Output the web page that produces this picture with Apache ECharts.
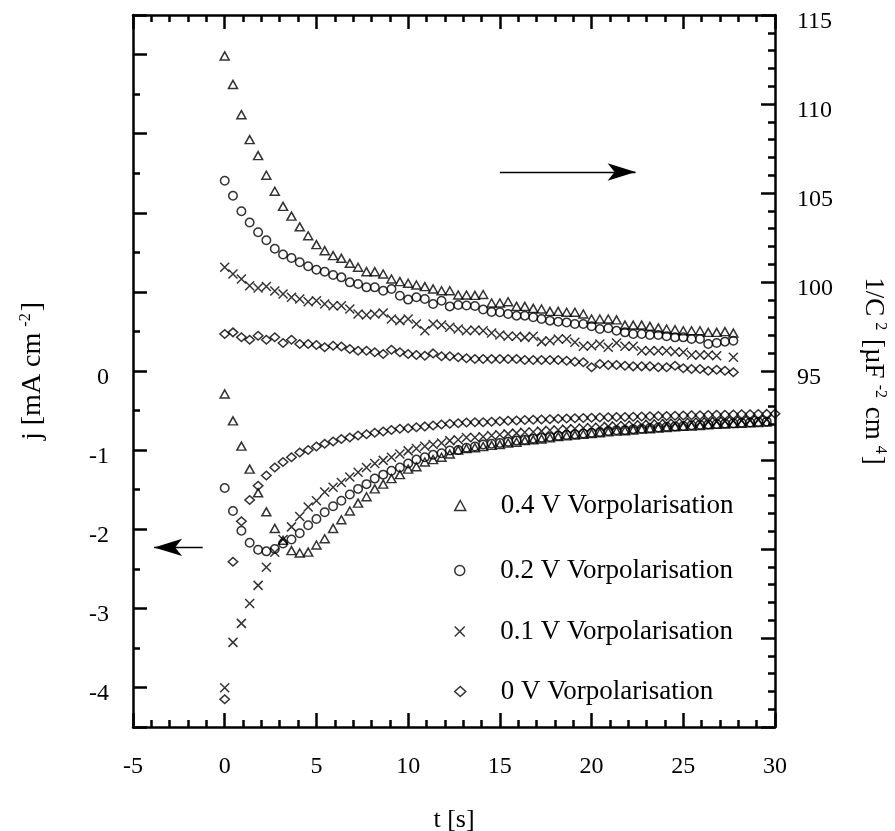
<!DOCTYPE html>
<html><head><meta charset="utf-8">
<script src="https://cdn.jsdelivr.net/npm/echarts@6/dist/echarts.min.js"></script>
<style>html,body{margin:0;padding:0;background:#fff}#c{width:895px;height:831px}</style>
</head><body><div id="c"></div>
<script>
// time axis [s]
const t = [0,0.45,0.91,1.36,1.82,2.27,2.73,3.18,3.64,4.09,4.55,5.00,5.45,5.91,6.36,6.82,7.27,7.73,8.18,8.64,
  9.09,9.55,10.00,10.45,10.91,11.36,11.82,12.27,12.73,13.18,13.64,14.09,14.55,15.00,15.45,15.91,16.36,16.82,17.27,17.73,
  18.18,18.64,19.09,19.55,20.00,20.45,20.91,21.36,21.82,22.27,22.73,23.18,23.64,24.09,24.55,25.00,25.45,25.91,26.36,26.82,
  27.27,27.73,28.18,28.64,29.09,29.55,30.00];

const seriesNames = ['0.4 V Vorpolarisation','0.2 V Vorpolarisation','0.1 V Vorpolarisation','0 V Vorpolarisation'];

// 1/C^2 [uF^-2 cm^4] (right axis)
const c04 = [112.7,111.1,109.4,108.0,107.1,106.0,105.1,104.25,103.7,103.1,102.6,102.1,101.76,101.48,101.33,101.05,100.83,100.58,100.58,100.45,
  100.17,100.02,99.93,99.83,99.74,99.61,99.51,99.51,99.27,99.27,99.25,99.30,98.82,98.82,98.89,98.63,98.63,98.52,98.48,98.35,
  98.35,98.30,98.30,98.20,97.92,97.92,97.92,97.87,97.58,97.58,97.58,97.51,97.42,97.36,97.32,97.26,97.26,97.26,97.17,97.17,
  97.21,97.13];
const c02 = [105.69,104.85,103.97,103.34,102.79,102.35,101.87,101.54,101.35,101.11,100.88,100.69,100.58,100.39,100.26,99.98,99.89,99.70,99.70,99.51,
  99.61,99.23,99.01,99.14,99.04,98.76,98.95,98.63,98.71,98.68,98.65,98.46,98.32,98.30,98.20,98.11,98.11,98.02,97.92,97.83,
  97.77,97.73,97.64,97.64,97.51,97.36,97.40,97.26,97.17,97.08,97.08,97.02,97.02,96.95,96.89,96.89,96.80,96.80,96.52,96.57,
  96.65,96.70];
const c01 = [100.83,100.45,100.17,99.79,99.66,99.75,99.49,99.33,99.14,99.04,98.89,98.95,98.76,98.67,98.67,98.48,98.20,98.15,98.20,98.26,
  97.92,97.83,97.92,97.64,97.26,97.64,97.58,97.46,97.36,97.26,97.30,97.26,97.13,97.02,96.95,96.95,96.89,96.95,96.65,96.70,
  96.80,96.80,96.61,96.39,96.42,96.52,96.33,96.57,96.39,96.39,96.14,96.14,96.14,96.14,96.08,96.05,95.90,95.90,95.90,95.86,
  null,95.77];
const c00 = [97.08,97.17,96.89,96.76,96.98,96.76,96.89,96.57,96.76,96.52,96.52,96.46,96.33,96.42,96.37,96.24,96.14,96.14,96.05,95.96,
  96.20,96.05,95.96,95.90,95.86,95.99,95.83,95.83,95.77,95.71,95.67,95.67,95.67,95.67,95.67,95.67,95.62,95.62,95.62,95.62,
  95.62,95.58,95.52,95.49,95.21,95.39,95.34,95.34,95.30,95.26,95.26,95.26,95.21,95.21,95.30,95.15,95.11,95.11,95.02,95.07,
  95.02,94.93];

// j [mA cm^-2] (left axis)
const j04 = [-0.29,-0.63,-0.95,-1.24,-1.54,-1.78,-1.99,-2.14,-2.27,-2.30,-2.29,-2.20,-2.12,-1.99,-1.88,-1.77,-1.67,-1.59,-1.49,-1.43,
  -1.36,-1.31,-1.24,-1.21,-1.15,-1.12,-1.09,-1.05,-1.00,-0.98,-0.97,-0.955,-0.94,-0.93,-0.91,-0.90,-0.88,-0.87,-0.86,-0.845,
  -0.83,-0.82,-0.81,-0.80,-0.79,-0.78,-0.77,-0.76,-0.755,-0.745,-0.735,-0.73,-0.72,-0.715,-0.705,-0.70,-0.695,-0.69,-0.68,-0.675,
  -0.67,-0.665,-0.66,-0.655,-0.65,-0.645];
const j02 = [-1.48,-1.77,-2.02,-2.17,-2.26,-2.28,-2.25,-2.18,-2.13,-2.05,-1.95,-1.87,-1.785,-1.71,-1.64,-1.56,-1.49,-1.43,-1.36,-1.31,
  -1.26,-1.22,-1.17,-1.12,-1.09,-1.06,-1.04,-1.005,-1.00,-0.97,-0.955,-0.93,-0.92,-0.91,-0.895,-0.88,-0.87,-0.855,-0.845,-0.835,
  -0.82,-0.81,-0.80,-0.79,-0.78,-0.77,-0.76,-0.75,-0.745,-0.735,-0.73,-0.72,-0.715,-0.705,-0.70,-0.695,-0.685,-0.68,-0.675,-0.67,
  -0.665,-0.66,-0.655,-0.65,-0.645,-0.64];
const j01 = [-4.005,-3.43,-3.19,-2.94,-2.71,-2.48,-2.29,-2.13,-1.97,-1.84,-1.72,-1.64,-1.53,-1.47,-1.41,-1.34,-1.28,-1.22,-1.17,-1.13,
  -1.09,-1.05,-1.01,-0.98,-0.95,-0.93,-0.91,-0.88,-0.87,-0.84,-0.84,-0.83,-0.815,-0.805,-0.795,-0.785,-0.775,-0.77,-0.76,-0.75,
  -0.745,-0.735,-0.73,-0.72,-0.715,-0.71,-0.70,-0.695,-0.69,-0.685,-0.68,-0.675,-0.67,-0.665,-0.66,-0.655,-0.65,-0.647,-0.643,-0.64,
  -0.636,-0.632,-0.628,-0.625,-0.62,-0.617];
const j00 = [-4.15,-2.41,-1.90,-1.63,-1.45,-1.32,-1.22,-1.15,-1.09,-1.03,-1.00,-0.955,-0.92,-0.89,-0.86,-0.84,-0.815,-0.80,-0.78,-0.765,
  -0.745,-0.73,-0.725,-0.71,-0.70,-0.69,-0.676,-0.668,-0.66,-0.65,-0.647,-0.647,-0.64,-0.635,-0.63,-0.627,-0.62,-0.617,-0.612,-0.61,
  -0.605,-0.60,-0.598,-0.595,-0.59,-0.588,-0.585,-0.582,-0.58,-0.578,-0.575,-0.572,-0.57,-0.568,-0.566,-0.563,-0.56,-0.558,-0.556,-0.554,
  -0.552,-0.55,-0.548,-0.546,-0.544,-0.542,-0.54];

// tick labels
const xTickLabels = ['-5','0','5','10','15','20','25','30'];
const jTickLabels = ['0','-1','-2','-3','-4'];
const cTickLabels = ['95','100','105','110','115'];

// arrows (data coordinates)
const arrowJ = {from:[-1.2,-2.23], to:[-3.85,-2.23]};
const arrowC = {from:[15.0,106.18], to:[22.4,106.18]};

const FONT = '"Liberation Serif","Times New Roman",serif';
const upper = [c04,c02,c01,c00];
const lower = [j04,j02,j01,j00];
const symbols = ['triangle','circle','path://M0,0L10,10M10,0L0,10','diamond'];
const symSizes = [[9,8],[8.5,8.5],[9,9],[9.5,8.5]];
const itemStyle = {color:'rgba(255,255,255,0)', borderColor:'#000', borderWidth:1.5};

function pts(vals){
  const out = [];
  vals.forEach((v,i)=>{ if(v!==null) out.push([t[i], v]); });
  return out;
}

const series = [];
for (let k=0;k<4;k++){
  series.push({
    type:'scatter', name:seriesNames[k], xAxisIndex:0, yAxisIndex:1,
    data:pts(upper[k]), symbol:symbols[k], symbolSize:symSizes[k],
    itemStyle:itemStyle, silent:true, animation:false
  });
  series.push({
    type:'scatter', name:seriesNames[k], xAxisIndex:0, yAxisIndex:0,
    data:pts(lower[k]), symbol:symbols[k], symbolSize:symSizes[k],
    itemStyle:itemStyle, silent:true, animation:false
  });
}
// arrows as markLines
const arrowLine = (a) => ({
  silent:true, animation:false, symbol:['none','arrow'], symbolSize:[13,28],
  lineStyle:{color:'#000', width:1.3, type:'solid'}, label:{show:false},
  itemStyle:{color:'#000'},
  data:[[{coord:a.from},{coord:a.to}]]
});
series[1].markLine = arrowLine(arrowJ);
series[0].markLine = arrowLine(arrowC);

const axisLine = {show:true, onZero:false, lineStyle:{color:'#000', width:2.5}};
const tickStyle = {color:'#000', width:2.5};
const labelStyle = {color:'#000', fontFamily:FONT, fontSize:24};

const legendRows = [501, 566, 627, 687];
const legends = seriesNames.map((n,k)=>({
  data:[n], left:449, top:legendRows[k]-14, orient:'vertical',
  itemWidth:11, itemHeight:10, selectedMode:false,
  itemStyle:{color:'rgba(255,255,255,0)', borderColor:'#000', borderWidth:1.5},
  textStyle:{color:'#000', fontFamily:FONT, fontSize:27, padding:[0,0,0,30]}
}));

const chart = echarts.init(document.getElementById('c'), null, {renderer:'canvas'});
chart.setOption({
  animation:false,
  backgroundColor:'#fff',
  grid:{left:133, right:120, top:15, bottom:104, containLabel:false, outerBoundsMode:'none'},
  legend:legends,
  xAxis:[{
    type:'value', position:'bottom', min:-5, max:30, interval:5,
    axisLine:axisLine,
    axisTick:{show:true, inside:true, length:14, lineStyle:tickStyle},
    minorTick:{show:true, splitNumber:5, length:7, lineStyle:tickStyle},
    splitLine:{show:false}, minorSplitLine:{show:false},
    axisLabel:Object.assign({margin:28, formatter:(v)=>{const s=String(v); return xTickLabels.includes(s)?s:'';}}, labelStyle),
    name:'t [s]', nameLocation:'middle', nameGap:80,
    nameTextStyle:{color:'#000', fontFamily:FONT, fontSize:26}
  },{
    type:'value', position:'top', min:-5, max:30, interval:5,
    axisLine:axisLine,
    axisTick:{show:true, inside:true, length:14, lineStyle:tickStyle},
    minorTick:{show:true, splitNumber:5, length:7, lineStyle:tickStyle},
    splitLine:{show:false}, axisLabel:{show:false}
  }],
  yAxis:[{
    type:'value', position:'left', min:-4.5, max:4.5, splitNumber:9,
    axisLine:axisLine,
    axisTick:{show:true, inside:true, length:14, lineStyle:tickStyle},
    minorTick:{show:false},
    splitLine:{show:false},
    axisLabel:Object.assign({margin:24, verticalAlign:'top', lineHeight:13,
      formatter:(v)=>{const s=String(Math.round(v*1000)/1000); return jTickLabels.includes(s)?s:'';}}, labelStyle),
    name:'j [mA cm{sup|-2}]', nameLocation:'middle', nameGap:86, nameRotate:90,
    nameTextStyle:{color:'#000', fontFamily:FONT, fontSize:28,
      rich:{sup:{fontFamily:FONT, fontSize:16, color:'#000', verticalAlign:'top', padding:[0,2,13,6]}}}
  },{
    type:'value', position:'right', min:75, max:115, interval:5,
    axisLine:axisLine,
    axisTick:{show:true, inside:true, length:14, lineStyle:tickStyle},
    minorTick:{show:true, splitNumber:5, length:7, lineStyle:tickStyle},
    splitLine:{show:false},
    axisLabel:Object.assign({margin:22, verticalAlign:'top', lineHeight:14,
      formatter:(v)=>{const s=String(v); return cTickLabels.includes(s)?s:'';}}, labelStyle),
    name:'1/C{sup|2} [µF{sup|-2} cm{sup|4}]', nameLocation:'middle', nameGap:84, nameRotate:-90,
    nameTextStyle:{color:'#000', fontFamily:FONT, fontSize:27,
      rich:{sup:{fontFamily:FONT, fontSize:16, color:'#000', verticalAlign:'top', padding:[0,2,13,6]}}}
  },{
    // half-unit short ticks on the j axis
    type:'value', position:'left', min:-4.5, max:4.5, interval:0.5, offset:0,
    axisLine:{show:false, onZero:false},
    axisTick:{show:true, inside:true, length:7, lineStyle:tickStyle},
    splitLine:{show:false}, axisLabel:{show:false}
  }],
  series:series
});
</script>
</body></html>
